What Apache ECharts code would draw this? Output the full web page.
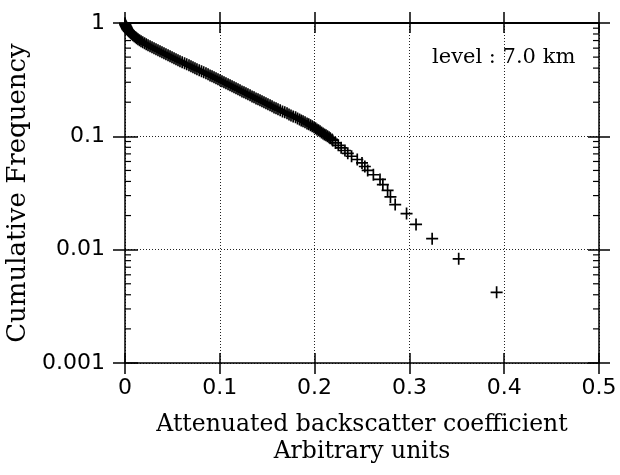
<!DOCTYPE html>
<html><head><meta charset="utf-8">
<script src="https://cdn.jsdelivr.net/npm/echarts@6/dist/echarts.min.js"></script>
<style>html,body{margin:0;padding:0;background:#fff}#c{width:620px;height:475px}</style>
</head><body><div id="c"></div>
<script>
// ---- data ----
const xTickValues = [0, 0.1, 0.2, 0.3, 0.4, 0.5];
const yTickLabels = ['0.001', '0.01', '0.1', '1'];
const minorTickValues = [0.002,0.003,0.004,0.005,0.006,0.007,0.008,0.009,
                         0.02,0.03,0.04,0.05,0.06,0.07,0.08,0.09,
                         0.2,0.3,0.4,0.5,0.6,0.7,0.8,0.9];
const backscatter = [
  0,0.0002,0.0005,0.0011,0.0016,0.0021,0.0026,0.0034,0.0042,0.0053,
  0.0063,0.0074,0.0084,0.0097,0.0111,0.0123,0.0137,0.0153,0.0169,0.0187,
  0.0206,0.0224,0.0243,0.0264,0.0285,0.0306,0.0327,0.0348,0.0369,0.0390,
  0.0411,0.0432,0.0454,0.0475,0.0496,0.0517,0.0538,0.0559,0.0580,0.0603,
  0.0628,0.0651,0.0675,0.0696,0.0717,0.0738,0.0759,0.0783,0.0807,0.0830,
  0.0854,0.0876,0.0897,0.0918,0.0939,0.0960,0.0981,0.1002,0.1023,0.1044,
  0.1065,0.1087,0.1108,0.1129,0.1150,0.1171,0.1192,0.1213,0.1234,0.1255,
  0.1276,0.1297,0.1319,0.1340,0.1361,0.1382,0.1403,0.1424,0.1445,0.1466,
  0.1487,0.1508,0.1530,0.1551,0.1572,0.1593,0.1614,0.1637,0.1661,0.1685,
  0.1709,0.1730,0.1751,0.1774,0.1799,0.1820,0.1841,0.1859,0.1878,0.1899,
  0.1920,0.1938,0.1957,0.1975,0.1994,0.2010,0.2025,0.2041,0.2057,0.2073,
  0.2089,0.2104,0.2120,0.2136,0.2152,0.2165,0.2184,0.2191,
  0.222,0.225,0.228,0.232,0.235,0.239,0.245,0.250,0.253,0.256,
  0.262,0.269,0.272,0.277,0.280,0.285,0.297,0.307,0.324,0.352,0.392];
const cumFreq = [
  0.994,0.974,0.954,0.935,0.916,0.898,0.880,0.862,0.845,0.828,
  0.811,0.795,0.779,0.763,0.748,0.733,0.718,0.704,0.689,0.676,
  0.662,0.649,0.636,0.623,0.610,0.598,0.586,0.574,0.563,0.551,
  0.540,0.529,0.519,0.508,0.498,0.488,0.478,0.469,0.459,0.450,
  0.441,0.432,0.423,0.415,0.406,0.398,0.390,0.382,0.375,0.367,
  0.360,0.353,0.345,0.339,0.332,0.325,0.319,0.312,0.306,0.300,
  0.294,0.288,0.282,0.276,0.271,0.265,0.260,0.255,0.249,0.245,
  0.240,0.235,0.230,0.225,0.221,0.216,0.212,0.208,0.204,0.200,
  0.196,0.192,0.188,0.184,0.180,0.177,0.173,0.170,0.166,0.163,
  0.160,0.156,0.153,0.150,0.147,0.144,0.141,0.138,0.136,0.133,
  0.130,0.128,0.125,0.123,0.120,0.118,0.115,0.113,0.111,0.108,
  0.106,0.104,0.102,0.100,0.098,0.096,0.094,0.092,
  0.0875,0.0833,0.0792,0.0750,0.0708,0.0667,0.0625,0.0583,0.0542,0.0500,
  0.0458,0.0417,0.0375,0.0333,0.0292,0.0250,0.0208,0.0167,0.0125,0.0083,0.0042];
const levelLabel = 'level : 7.0 km';
const xName = 'Attenuated backscatter coefficient\nArbitrary units';
const yName = 'Cumulative Frequency';

// ---- chart ----
const chart = echarts.init(document.getElementById('c'), null, {renderer: 'canvas'});
const BLACK = '#000';
const SERIF = 'DejaVu Serif';
const SANS = 'DejaVu Sans';
const dotted = {type: [1, 2], color: '#222', width: 1};

function xAxis(pos, inside, len, main) {
  return {
    type: 'value', position: pos, min: 0, max: 0.5, interval: 0.1,
    axisLine: {show: !inside, onZero: false, lineStyle: {color: BLACK, width: pos === 'top' ? 2 : 1.5}},
    axisTick: {show: true, inside: inside, length: len, lineStyle: {color: BLACK, width: 1.5}},
    axisLabel: main ? {show: true, margin: 14, color: BLACK, fontFamily: SANS, fontSize: 22,
      formatter: v => { const t = xTickValues.find(x => Math.abs(x - v) < 1e-9); return t === undefined ? '' : String(t); }} : {show: false},
    splitLine: main ? {show: true, lineStyle: dotted} : {show: false},
    name: main ? xName : '', nameLocation: 'middle', nameGap: 48,
    nameTextStyle: {fontFamily: SERIF, fontSize: 23.5, color: BLACK, lineHeight: 27}
  };
}
function yAxis(pos, inside, len, main) {
  return {
    type: 'log', logBase: 10, position: pos, min: 0.001, max: 1,
    axisLine: {show: !inside, onZero: false, lineStyle: {color: BLACK, width: 1.5}},
    axisTick: {show: true, inside: inside, length: len, lineStyle: {color: BLACK, width: 1.5}},
    axisLabel: main ? {show: true, margin: 20, color: BLACK, fontFamily: SANS, fontSize: 22,
      formatter: v => yTickLabels.find(t => Math.abs(+t - v) < v * 1e-6) || ''} : {show: false},
    splitLine: main ? {show: true, lineStyle: dotted} : {show: false},
    minorTick: {show: false},
    name: main ? yName : '', nameLocation: 'middle', nameGap: 87, nameRotate: 90,
    nameTextStyle: {fontFamily: SERIF, fontSize: 26, color: BLACK}
  };
}

chart.setOption({
  animation: false,
  backgroundColor: '#fff',
  title: {text: levelLabel, left: 432, top: 47, padding: 0,
    textStyle: {fontFamily: SERIF, fontSize: 21, fontWeight: 'normal', color: BLACK}},
  grid: {left: 125, right: 21, top: 23, bottom: 112, containLabel: false, outerBoundsMode: 'none'},
  xAxis: [xAxis('bottom', false, 11, true), xAxis('bottom', true, 10, false),
          xAxis('top', false, 11, false), xAxis('top', true, 10, false)],
  yAxis: [yAxis('left', false, 12, true), yAxis('left', true, 13, false),
          yAxis('right', false, 11, false), yAxis('right', true, 11, false)],
  series: [
    {
      type: 'custom', xAxisIndex: 0, yAxisIndex: 0, silent: true, clip: false, z: 3,
      data: minorTickValues.map(v => [0, v]),
      encode: {x: 0, y: 1},
      renderItem: (params, api) => {
        const v = api.value(1);
        const l = api.coord([0, v]);
        const r = api.coord([0.5, v]);
        return {type: 'group', children: [
          {type: 'line', shape: {x1: l[0], y1: l[1], x2: l[0] + 6, y2: l[1]}, style: {stroke: BLACK, lineWidth: 1.2}},
          {type: 'line', shape: {x1: r[0] - 6, y1: r[1], x2: r[0], y2: r[1]}, style: {stroke: BLACK, lineWidth: 1.2}}
        ]};
      }
    },
    {
      type: 'scatter', xAxisIndex: 0, yAxisIndex: 0, z: 4,
      symbol: 'path://M0,4.3H10V5.7H0Z M4.3,0H5.7V10H4.3Z',
      symbolSize: 12,
      itemStyle: {color: BLACK, opacity: 1},
      data: backscatter.map((x, i) => [x, cumFreq[i]])
    }
  ]
});
</script>
</body></html>
